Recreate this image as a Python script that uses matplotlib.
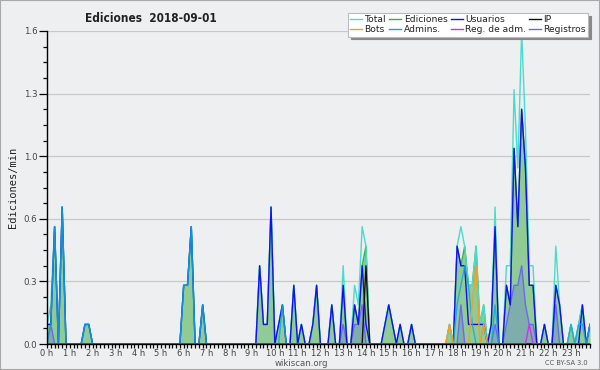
import numpy as np
import matplotlib
matplotlib.use("Agg")
import matplotlib.pyplot as plt
from matplotlib.lines import Line2D
from matplotlib.patches import Rectangle
from matplotlib.ticker import MultipleLocator, FixedLocator, FixedFormatter

# edits per 10 minutes (divide by 10 -> edits/min), 144 bins, 4 hours per row
TOTAL = [
    1, 2, 6, 0, 7, 0, 0, 0, 0, 0, 1, 1, 0, 0, 0, 0, 0, 0, 0, 0, 0, 0, 0, 0,
    0, 0, 0, 0, 0, 0, 0, 0, 0, 0, 0, 0, 3, 3, 6, 0, 0, 2, 0, 0, 0, 0, 0, 0,
    0, 0, 0, 0, 0, 0, 0, 0, 4, 1, 1, 7, 0, 1, 2, 0, 0, 3, 0, 1, 0, 0, 1, 3,
    0, 0, 0, 2, 0, 0, 4, 0, 0, 3, 2, 6, 5, 0, 0, 0, 0, 1, 2, 1, 0, 1, 0, 0,
    1, 0, 0, 0, 0, 0, 0, 0, 0, 0, 1, 0, 5, 6, 5, 3, 3, 5, 1, 2, 0, 1, 7, 0,
    0, 4, 4, 13, 9, 16, 11, 4, 4, 0, 0, 1, 0, 0, 5, 2, 0, 0, 1, 0, 1, 2, 0, 1,
]
EDICIONES = [
    1, 1, 6, 0, 7, 0, 0, 0, 0, 0, 1, 1, 0, 0, 0, 0, 0, 0, 0, 0, 0, 0, 0, 0,
    0, 0, 0, 0, 0, 0, 0, 0, 0, 0, 0, 0, 3, 3, 6, 0, 0, 2, 0, 0, 0, 0, 0, 0,
    0, 0, 0, 0, 0, 0, 0, 0, 4, 1, 1, 7, 0, 1, 2, 0, 0, 3, 0, 1, 0, 0, 1, 3,
    0, 0, 0, 2, 0, 0, 3, 0, 0, 2, 1, 4, 5, 0, 0, 0, 0, 1, 2, 1, 0, 1, 0, 0,
    1, 0, 0, 0, 0, 0, 0, 0, 0, 0, 1, 0, 5, 4, 5, 3, 3, 5, 1, 2, 0, 1, 6, 0,
    0, 3, 2, 10, 6, 12, 9, 3, 3, 0, 0, 1, 0, 0, 3, 2, 0, 0, 1, 0, 1, 2, 0, 1,
]
USUARIOS = [
    1, 1, 6, 0, 7, 0, 0, 0, 0, 0, 1, 1, 0, 0, 0, 0, 0, 0, 0, 0, 0, 0, 0, 0,
    0, 0, 0, 0, 0, 0, 0, 0, 0, 0, 0, 0, 3, 3, 6, 0, 0, 2, 0, 0, 0, 0, 0, 0,
    0, 0, 0, 0, 0, 0, 0, 0, 4, 1, 1, 7, 0, 1, 2, 0, 0, 3, 0, 1, 0, 0, 1, 3,
    0, 0, 0, 2, 0, 0, 3, 0, 0, 2, 1, 4, 1, 0, 0, 0, 0, 1, 2, 1, 0, 1, 0, 0,
    1, 0, 0, 0, 0, 0, 0, 0, 0, 0, 0, 0, 5, 4, 4, 1, 1, 1, 1, 1, 0, 1, 6, 0,
    0, 3, 2, 10, 6, 12, 9, 3, 3, 0, 0, 1, 0, 0, 3, 2, 0, 0, 0, 0, 0, 2, 0, 1,
]
IP = [0] * 84 + [4] + [0] * 59
BOTS = [0] * 106 + [1, 0, 0, 0, 0, 0, 2, 4, 0, 1] + [0] * 28
ADMINS = [
    0, 1, 6, 0, 7, 0, 0, 0, 0, 0, 1, 1, 0, 0, 0, 0, 0, 0, 0, 0, 0, 0, 0, 0,
    0, 0, 0, 0, 0, 0, 0, 0, 0, 0, 0, 0, 3, 3, 6, 0, 0, 2, 0, 0, 0, 0, 0, 0,
    0, 0, 0, 0, 0, 0, 0, 0, 0, 0, 0, 0, 0, 0, 2, 0, 0, 0, 0, 0, 0, 0, 0, 0,
    0, 0, 0, 0, 0, 0, 0, 0, 0, 0, 0, 0, 0, 0, 0, 0, 0, 0, 0, 0, 0, 0, 0, 0,
    0, 0, 0, 0, 0, 0, 0, 0, 0, 0, 0, 0, 2, 3, 4, 3, 1, 0, 0, 1, 0, 0, 2, 0,
    0, 0, 0, 0, 0, 0, 0, 0, 0, 0, 0, 0, 0, 0, 0, 0, 0, 0, 1, 0, 1, 1, 0, 1,
]
REG_ADM = [0] * 127 + [1] + [0] * 16
REGISTROS = [
    0, 1, 0, 0, 0, 0, 0, 0, 0, 0, 0, 0, 0, 0, 0, 0, 0, 0, 0, 0, 0, 0, 0, 0,
    0, 0, 0, 0, 0, 0, 0, 0, 0, 0, 0, 0, 0, 0, 0, 0, 0, 0, 0, 0, 0, 0, 0, 0,
    0, 0, 0, 0, 0, 0, 0, 0, 0, 0, 0, 0, 0, 0, 0, 0, 0, 0, 0, 0, 0, 0, 0, 0,
    0, 0, 0, 0, 0, 0, 1, 0, 0, 1, 1, 2, 0, 0, 0, 0, 0, 0, 0, 0, 0, 0, 0, 0,
    0, 0, 0, 0, 0, 0, 0, 0, 0, 0, 0, 0, 0, 2, 0, 0, 0, 0, 0, 0, 0, 0, 1, 0,
    0, 1, 2, 3, 3, 4, 2, 1, 1, 0, 0, 0, 0, 0, 2, 0, 0, 0, 0, 0, 0, 0, 0, 0,
]
HOUR_LABELS = ["%d h" % h for h in range(24)]
Y_LABELS = ["0.0", "0.3", "0.6", "1.0", "1.3", "1.6"]

BG = "#eeeff0"
C_TOTAL = "#48dccc"
C_EDIC = "#3cae3c"
C_FILL = "#90cb96"
C_USU = "#1010f0"
C_IP = "#111111"
C_BOTS = "#f0a028"
C_ADM = "#10a8e0"
C_REGADM = "#cc33e8"
C_REG = "#6a6af0"

x = np.arange(144) / 6.0
s = lambda a: np.array(a) / 10.0

fig = plt.figure(figsize=(6, 3.7), dpi=100, facecolor=BG)
ax = fig.add_axes([47 / 600, 26 / 370, 543 / 600, 313 / 370])
ax.set_facecolor(BG)

ax.fill_between(x, 0, s(EDICIONES), color=C_FILL, lw=0, zorder=1)
ax.fill_between(x, 0, s(REGISTROS), color="#5a6ae0", alpha=0.3, lw=0, zorder=1.1)

ax.plot(x, s(EDICIONES), color=C_EDIC, lw=1.0, zorder=2)
ax.plot(x, s(TOTAL), color=C_TOTAL, lw=1.0, zorder=2.1)
ax.plot(x, s(REGISTROS), color=C_REG, lw=1.0, zorder=2.2)
ax.plot(x, s(USUARIOS), color=C_USU, lw=1.0, zorder=2.3)
ax.plot(x, s(ADMINS), color=C_ADM, lw=1.0, alpha=0.85, zorder=2.4)
ax.plot(x, s(BOTS), color=C_BOTS, lw=1.0, zorder=2.5)
ax.plot(x, s(IP), color=C_IP, lw=1.0, zorder=2.6)
ax.plot(x, s(REG_ADM), color=C_REGADM, lw=1.0, zorder=2.7)

ax.set_xlim(0, 143 / 6.0)
ax.set_ylim(0, 1.6)

yt = [i * 0.32 for i in range(6)]
ax.yaxis.set_major_locator(FixedLocator(yt))
ax.yaxis.set_major_formatter(FixedFormatter(Y_LABELS))
ax.yaxis.set_minor_locator(MultipleLocator(0.08))
ax.xaxis.set_major_locator(FixedLocator(range(24)))
ax.xaxis.set_major_formatter(FixedFormatter(HOUR_LABELS))
ax.xaxis.set_minor_locator(MultipleLocator(1 / 6.0))

ax.grid(axis="y", which="major", color="#c8c8c8", lw=0.9, zorder=0)
ax.set_axisbelow(True)
for sp in ["top", "right"]:
    ax.spines[sp].set_visible(False)
for sp in ["left", "bottom"]:
    ax.spines[sp].set_color("black")
    ax.spines[sp].set_linewidth(1.0)
    ax.spines[sp].set_zorder(5)

ax.tick_params(axis="y", which="major", length=6, width=0.9, direction="out",
               labelsize=6.2, labelcolor="#444444", pad=1)
ax.tick_params(axis="y", which="minor", length=3, width=0.9, direction="out")
ax.tick_params(axis="x", which="both", length=3, width=0.9, direction="out",
               labelsize=6.0, labelcolor="#444444", pad=0.5)

ax.set_ylabel("Ediciones/min", family="DejaVu Sans Mono", fontsize=7.5,
              color="#222222", labelpad=4)

fig.text(85 / 600, 1 - 19 / 370, "Ediciones  2018-09-01", fontsize=8.5,
         fontweight="bold", fontstretch="condensed", color="#222222",
         va="center", ha="left")
fig.text(301 / 600, 1 - 363 / 370, "wikiscan.org", fontsize=6.2,
         color="#555555", ha="center", va="center")
fig.text(588 / 600, 1 - 363 / 370, "CC BY-SA 3.0", fontsize=4.8,
         color="#555555", ha="right", va="center")

handles = [
    Line2D([], [], color=C_TOTAL, lw=1, label="Total"),
    Line2D([], [], color=C_BOTS, lw=1, label="Bots"),
    Line2D([], [], color=C_EDIC, lw=1, label="Ediciones"),
    Line2D([], [], color=C_ADM, lw=1, label="Admins."),
    Line2D([], [], color=C_USU, lw=1, label="Usuarios"),
    Line2D([], [], color=C_REGADM, lw=1, label="Reg. de adm."),
    Line2D([], [], color=C_IP, lw=1, label="IP"),
    Line2D([], [], color=C_REG, lw=1, label="Registros"),
]
leg = fig.legend(handles=handles, ncol=4, loc="upper right",
                 bbox_to_anchor=(588 / 600, 1 - 13 / 370), fontsize=6.6,
                 frameon=True, fancybox=False, shadow={"color": "#888888", "alpha": 1},
                 handlelength=1.3, handletextpad=0.25, columnspacing=0.35,
                 labelspacing=0.1, borderpad=0.25, borderaxespad=0)
leg.get_frame().set_facecolor("white")
leg.get_frame().set_edgecolor("#bbbbbb")
leg.get_frame().set_linewidth(0.8)
for t in leg.get_texts():
    t.set_color("#222222")

fig.patches.append(Rectangle((0, 0), 1, 1, transform=fig.transFigure,
                             fill=False, edgecolor="#a8a8a8", lw=1.5))

fig.savefig("out.png", dpi=100, facecolor=BG)
